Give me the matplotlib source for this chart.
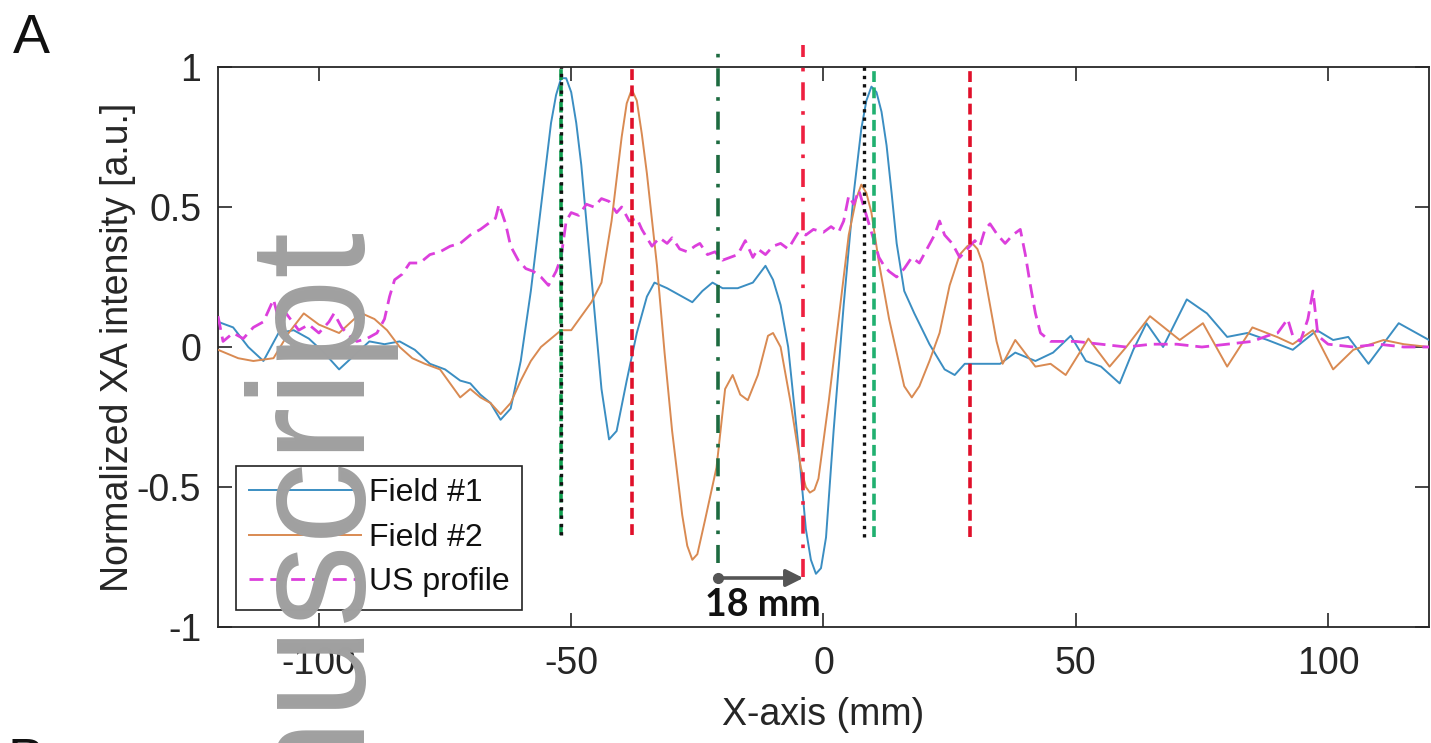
import matplotlib
matplotlib.use("Agg")
import matplotlib.pyplot as plt

# ---------------- data ----------------
field1_x = [-120, -117, -114, -111, -108, -105, -102, -99, -96, -93, -90, -87, -84, -81, -78, -75,
            -72, -70, -68, -66, -64, -62, -60, -58, -56, -54, -53, -52, -51, -50, -49, -48, -46,
            -44, -42.5, -41, -39, -37, -35, -33.5, -31, -28, -26, -24, -22, -20, -17, -14, -11.5,
            -10, -8.5, -7, -5, -3.5, -2.5, -1.5, -0.5, 0.5, 2, 4, 6, 7.5, 8.5, 9.5, 10.5, 11.5,
            12.5, 13.5, 14.5, 16, 18, 21, 24, 26, 28, 31, 35, 38, 42, 45.5, 49, 52, 55, 58.7, 61.4,
            64, 67.3, 72, 76, 80, 84, 88, 93, 97.8, 101, 104, 108, 114, 120]
field1_y = [0.09, 0.07, 0.0, -0.05, 0.05, 0.06, 0.03, -0.02, -0.08, -0.03, 0.02, 0.01, 0.02, -0.01,
            -0.06, -0.08, -0.12, -0.13, -0.17, -0.2, -0.26, -0.22, -0.05, 0.2, 0.5, 0.8, 0.9, 0.96,
            0.96, 0.91, 0.8, 0.65, 0.25, -0.15, -0.33, -0.3, -0.12, 0.05, 0.18, 0.23, 0.21, 0.18,
            0.16, 0.2, 0.23, 0.21, 0.21, 0.23, 0.29, 0.24, 0.15, 0.0, -0.35, -0.65, -0.76, -0.81,
            -0.79, -0.68, -0.3, 0.15, 0.55, 0.78, 0.88, 0.93, 0.91, 0.84, 0.72, 0.55, 0.37, 0.2,
            0.12, 0.01, -0.08, -0.1, -0.06, -0.06, -0.06, -0.02, -0.05, -0.02, 0.04, -0.05, -0.07,
            -0.13, -0.01, 0.085, 0.0, 0.17, 0.12, 0.036, 0.05, 0.025, -0.01, 0.06, 0.025, 0.036,
            -0.06, 0.085, 0.025]

field2_x = [-120, -116, -113, -109, -106, -103, -100, -96, -93, -91.5, -89, -86.5, -84, -81.5, -79,
            -76, -74, -72, -70, -68, -66, -64, -62, -60, -58, -56, -54, -52, -50, -48, -46, -44,
            -42, -40, -39, -38, -37, -36, -35, -33, -31.5, -30, -28, -27, -26, -25, -23.5, -21.2,
            -19.5, -18, -16.5, -15, -13, -11, -10, -8.5, -6.5, -4.5, -3.5, -2.7, -1.8, -1, 1, 3,
            5, 6.5, 7.5, 8.5, 9.5, 11, 13, 14.5, 16, 17.5, 19, 21, 23, 25, 27, 28.5, 29.5, 30.5,
            31.5, 33, 34.3, 35.5, 38, 42, 45, 48, 52.5, 56.7, 60, 64.7, 70.6, 75.2, 80, 85, 90, 93,
            97, 101, 105, 111, 115, 120]
field2_y = [-0.01, -0.04, -0.05, -0.04, 0.05, 0.12, 0.08, 0.05, 0.1, 0.12, 0.1, 0.06, 0.0, -0.04,
            -0.06, -0.08, -0.13, -0.18, -0.15, -0.18, -0.2, -0.24, -0.2, -0.12, -0.05, 0.0, 0.03,
            0.06, 0.06, 0.11, 0.16, 0.23, 0.45, 0.75, 0.87, 0.92, 0.88, 0.76, 0.62, 0.29, -0.02,
            -0.3, -0.6, -0.71, -0.76, -0.74, -0.62, -0.43, -0.15, -0.1, -0.17, -0.19, -0.1, 0.04,
            0.05, 0.0, -0.2, -0.43, -0.5, -0.52, -0.51, -0.47, -0.2, 0.1, 0.4, 0.53, 0.58, 0.55,
            0.48, 0.3, 0.1, -0.02, -0.14, -0.18, -0.14, -0.05, 0.05, 0.22, 0.33, 0.36, 0.37, 0.35,
            0.3, 0.15, 0.02, -0.06, 0.025, -0.07, -0.06, -0.1, 0.03, -0.07, 0.0, 0.11, 0.025, 0.085,
            -0.07, 0.07, 0.035, 0.01, 0.06, -0.08, -0.01, 0.025, 0.01, 0.0]

us_x = [-120, -119, -117, -115, -113, -111, -109, -108, -106.5, -104, -102, -100, -98, -97, -95.5,
        -94, -92.5, -90.5, -88.5, -87, -86, -85, -83.5, -82, -80, -78, -76, -74, -72, -70, -68,
        -66.5, -65, -64.3, -63, -62, -60.5, -59, -57.5, -56, -54.5, -53, -52, -51, -50, -48.5,
        -47, -45.5, -44, -42.5, -41, -40, -38.5, -37, -36, -35, -34, -32.5, -31, -30, -28.5, -27,
        -25.5, -24.5, -23, -21.5, -20, -18.5, -17, -15.5, -14, -13, -11.5, -10, -8.5, -7, -5,
        -3.5, -2, 0, 1.5, 3, 4, 5, 6, 7, 8, 9, 10, 11, 12, 13, 14.5, 16, 17.5, 19, 20.5, 22, 23,
        24, 25.5, 27, 28.5, 30, 31, 32, 33, 34.5, 36, 37.5, 39, 40, 41, 42, 43, 45, 50, 55, 60,
        65, 70, 75, 80, 85, 88, 90, 92, 93, 94.5, 96, 97, 98, 100, 105, 110, 115, 120]
us_y = [0.11, 0.02, 0.05, 0.03, 0.07, 0.09, 0.17, 0.1, 0.12, 0.06, 0.08, 0.05, 0.09, 0.12, 0.07,
        0.04, 0.02, 0.03, 0.05, 0.1, 0.18, 0.24, 0.26, 0.3, 0.3, 0.33, 0.34, 0.36, 0.37, 0.4, 0.42,
        0.44, 0.46, 0.51, 0.44, 0.36, 0.31, 0.28, 0.27, 0.25, 0.22, 0.27, 0.32, 0.45, 0.48, 0.47,
        0.51, 0.5, 0.53, 0.52, 0.48, 0.5, 0.45, 0.46, 0.42, 0.39, 0.36, 0.39, 0.37, 0.39, 0.35,
        0.34, 0.36, 0.37, 0.33, 0.34, 0.31, 0.32, 0.33, 0.38, 0.32, 0.35, 0.33, 0.36, 0.37, 0.35,
        0.41, 0.40, 0.42, 0.41, 0.43, 0.41, 0.45, 0.54, 0.51, 0.56, 0.5, 0.44, 0.38, 0.32, 0.29,
        0.27, 0.25, 0.28, 0.32, 0.3, 0.35, 0.4, 0.45, 0.4, 0.37, 0.32, 0.35, 0.38, 0.36, 0.42,
        0.44, 0.4, 0.37, 0.4, 0.42, 0.33, 0.22, 0.12, 0.05, 0.02, 0.02, 0.01, 0.0, 0.01, 0.01,
        0.0, 0.01, 0.02, 0.04, 0.05, 0.1, 0.04, 0.02, 0.1, 0.2, 0.04, 0.01, 0.0, 0.01, 0.0, 0.0]

series_labels = ["Field #1", "Field #2", "US profile"]

# vertical marker lines: x position, lower end, upper end
vline_x = [-52, -52, -38, -21, -4, 8, 10, 29]
vline_ymin = [-0.67, -0.67, -0.67, -0.77, -0.82, -0.68, -0.68, -0.68]
vline_ymax = [1.0, 1.0, 1.0, 1.08, 1.08, 1.0, 1.0, 1.0]

# distance arrow
arrow_from = -21
arrow_to = -4
arrow_y = -0.825
arrow_label = "18 mm"

x_ticks = [-100, -50, 0, 50, 100]
x_ticklabels = ["-100", "-50", "0", "50", "100"]
y_ticks = [-1, -0.5, 0, 0.5, 1]
y_ticklabels = ["-1", "-0.5", "0", "0.5", "1"]

# ---------------- plotting ----------------
plt.rcParams['font.family'] = ['Liberation Sans', 'DejaVu Sans']
TXT = '#262626'

fig = plt.figure(figsize=(14.31, 7.43), dpi=100)
ax = fig.add_axes([218 / 1431, 116 / 743, 1211 / 1431, 560 / 743])

c1 = '#3b8ec2'
c2 = '#d98a52'
c3 = '#dc3fdc'

ax.plot(field1_x, field1_y, color=c1, lw=1.4, label=series_labels[0], zorder=3)
ax.plot(field2_x, field2_y, color=c2, lw=1.4, label=series_labels[1], zorder=3)
ax.plot(us_x, us_y, color=c3, lw=2.0, ls=(0, (5, 2.5)), label=series_labels[2], zorder=3)

vstyles = [
    dict(color='#10a050', ls=(0, (3, 1.5)), lw=2.6),
    dict(color='#111111', ls=(0, (1, 1.5)), lw=2.4),
    dict(color='#e0102a', ls=(0, (3, 1.5)), lw=2.6),
    dict(color='#1d6b40', ls=(0, (5, 3, 1, 3)), lw=2.6),
    dict(color='#ee2040', ls=(0, (5, 3, 1, 3)), lw=2.6),
    dict(color='#111111', ls=(0, (1, 1.5)), lw=2.4),
    dict(color='#20b070', ls=(0, (3, 1.5)), lw=2.6),
    dict(color='#e0102a', ls=(0, (3, 1.5)), lw=2.6),
]
for xv, y0, y1, st in zip(vline_x, vline_ymin, vline_ymax, vstyles):
    ax.plot([xv, xv], [y0, y1], clip_on=False, zorder=4, **st)

ax.annotate('', xy=(arrow_to, arrow_y), xytext=(arrow_from, arrow_y),
            arrowprops=dict(arrowstyle='-|>', color='#555555', lw=2.6,
                            mutation_scale=26, shrinkA=0, shrinkB=0), zorder=5)
ax.plot([arrow_from], [arrow_y], 'o', color='#555555', ms=7, zorder=5)
ax.text((arrow_from + arrow_to) / 2 + 0.4, arrow_y - 0.095, arrow_label, ha='center', va='center',
        fontsize=27, fontweight='bold', family=['Lato', 'DejaVu Sans'], color='#111111', zorder=6)

ax.set_xlim(-120, 120)
ax.set_ylim(-1, 1)
ax.set_xticks(x_ticks)
ax.set_xticklabels(x_ticklabels)
ax.set_yticks(y_ticks)
ax.set_yticklabels(y_ticklabels)
ax.tick_params(direction='in', length=10, width=1.2, top=True, right=True,
               labelsize=27, colors=TXT, pad=12)
ax.tick_params(axis='x', pad=14)
for s in ax.spines.values():
    s.set_color(TXT)
    s.set_linewidth(1.3)

ax.set_xlabel('X-axis (mm)', fontsize=27, color=TXT)
ax.xaxis.set_label_coords(0.5, -0.125)
ax.xaxis.label.set_va('top')
ax.set_ylabel('Normalized XA intensity [a.u.]', fontsize=27, color=TXT)
ax.yaxis.set_label_coords(-0.068, 0.5)

leg = ax.legend(loc='lower left', bbox_to_anchor=(18 / 1211, 17 / 560), borderaxespad=0,
                fontsize=23, handlelength=3.5, handletextpad=0.25, labelspacing=0.45,
                borderpad=0.4, fancybox=False, framealpha=1, edgecolor='#222222')
leg.get_frame().set_linewidth(1.2)
for t in leg.get_texts():
    t.set_color('#111111')

fig.text(13 / 1431, (743 - 53) / 743, 'A', fontsize=40, color='#111111', ha='left', va='baseline')
fig.text(8 / 1431, (743 - 777) / 743, 'B', fontsize=40, color='#111111', ha='left', va='baseline')

fig.text(352 / 1431, (743 - 218) / 743, 'Manuscript', fontsize=119, color='#a0a0a0',
         rotation=90, rotation_mode='anchor', ha='right', va='baseline', zorder=10)

fig.savefig('out.png', dpi=100)
